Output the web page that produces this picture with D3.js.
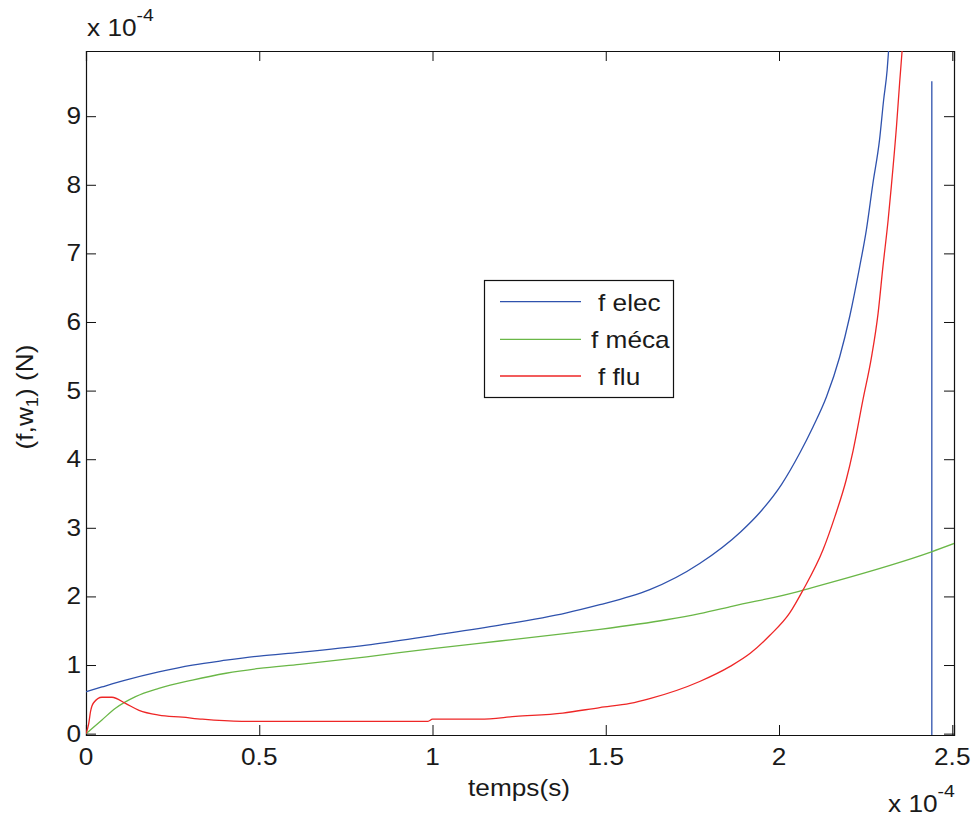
<!DOCTYPE html>
<html><head><meta charset="utf-8">
<script src="https://cdn.jsdelivr.net/npm/d3@7"></script>
<style>body{margin:0;background:#fff}svg{display:block}text{font-family:"Liberation Sans",Arial,sans-serif;fill:#1a1a1a}</style>
</head><body>
<svg id="c" width="973" height="816"></svg>
<script>
// ---- data (units: x in 1e-4 s, y in 1e-4 N) ----
const xTicks = [0, 0.5, 1, 1.5, 2, 2.5];
const xTickLabels = ["0", "0.5", "1", "1.5", "2", "2.5"];
const yTicks = [0, 1, 2, 3, 4, 5, 6, 7, 8, 9];
const yTickLabels = ["0", "1", "2", "3", "4", "5", "6", "7", "8", "9"];
const seriesNames = ["f elec", "f méca", "f flu"];
const seriesColors = ["#2f52ad", "#6ab747", "#ee2626"];

const elecX = [0, 0.046, 0.114, 0.21, 0.307, 0.404, 0.5, 0.617, 0.81, 1.0, 1.194, 1.387, 1.483, 1.57, 1.627, 1.771, 1.889, 1.944, 2.007, 2.060, 2.098, 2.137, 2.175, 2.204, 2.233, 2.252, 2.271, 2.290, 2.302, 2.312, 2.316, 2.320];
const elecY = [0.61, 0.68, 0.78, 0.90, 1.0, 1.07, 1.13, 1.185, 1.29, 1.43, 1.58, 1.76, 1.88, 2.0, 2.10, 2.48, 2.94, 3.22, 3.63, 4.09, 4.47, 4.91, 5.49, 6.08, 6.81, 7.34, 8.02, 8.65, 9.24, 9.67, 9.94, 10.2];
const elecSpikeX = [2.441, 2.441];
const elecSpikeY = [9.51, -0.02];

const mecaX = [0, 0.046, 0.085, 0.143, 0.21, 0.307, 0.404, 0.5, 0.617, 0.81, 1.0, 1.194, 1.387, 1.483, 1.675, 1.771, 1.867, 2.055, 2.069, 2.44, 2.51];
const mecaY = [0, 0.2, 0.37, 0.54, 0.66, 0.78, 0.88, 0.95, 1.01, 1.12, 1.24, 1.35, 1.46, 1.52, 1.66, 1.75, 1.86, 2.07, 2.09, 2.65, 2.78];

const fluX = [0, 0.008, 0.013, 0.022, 0.046, 0.075, 0.114, 0.153, 0.21, 0.278, 0.336, 0.45, 0.987, 1.0, 1.137, 1.24, 1.376, 1.483, 1.57, 1.627, 1.771, 1.859, 1.917, 1.973, 2.031, 2.069, 2.127, 2.161, 2.194, 2.214, 2.242, 2.267, 2.286, 2.300, 2.315, 2.324, 2.339, 2.348, 2.355, 2.360];
const fluY = [0, 0.15, 0.32, 0.45, 0.53, 0.53, 0.44, 0.34, 0.27, 0.24, 0.21, 0.18, 0.18, 0.21, 0.21, 0.25, 0.30, 0.38, 0.44, 0.51, 0.76, 0.98, 1.17, 1.43, 1.76, 2.09, 2.68, 3.16, 3.70, 4.13, 4.86, 5.49, 6.13, 6.81, 7.49, 7.97, 8.85, 9.48, 9.94, 10.3];

// ---- layout ----
const L = 86, R = 954, T = 51, B = 735;
const SX = 1.14, FS = 23;
const svg = d3.select("#c");
const x = d3.scaleLinear().domain([0, 2.505]).range([L, R]);
const y = d3.scaleLinear().domain([-0.02, 9.95]).range([B, T]);

svg.append("defs").append("clipPath").attr("id", "clip")
  .append("rect").attr("x", L).attr("y", T).attr("width", R - L).attr("height", B - T);

function txt(g, s, tx, ty, anchor, extra) {
  return g.append("text").attr("transform", `translate(${tx},${ty})${extra || ""} scale(${SX},1)`)
    .attr("text-anchor", anchor).attr("font-size", FS).text(s);
}

// axes (MATLAB box style, inward ticks)
const axB = d3.axisBottom(x).tickValues(xTicks).tickSize(-10).tickFormat(() => "");
const axT = d3.axisTop(x).tickValues(xTicks).tickSize(-10).tickFormat(() => "");
const axL = d3.axisLeft(y).tickValues(yTicks).tickSize(-10).tickFormat(() => "");
const axR = d3.axisRight(y).tickValues(yTicks).tickSize(-10).tickFormat(() => "");
[[axB, `translate(0,${B})`], [axT, `translate(0,${T})`], [axL, `translate(${L},0)`], [axR, `translate(${R},0)`]].forEach(([a, t]) => {
  const g = svg.append("g").attr("transform", t).call(a);
  g.selectAll("path.domain").attr("stroke", "#111").attr("stroke-width", 1.2);
  g.selectAll(".tick line").attr("stroke", "#111").attr("stroke-width", 1);
});

// tick labels
const lab = svg.append("g");
xTicks.forEach((v, i) => txt(lab, xTickLabels[i], x(v), 765, "middle"));
yTicks.forEach((v, i) => txt(lab, yTickLabels[i], 81, y(v) + 8, "end"));

// series
const smooth = d3.line().x(d => x(d[0])).y(d => y(d[1])).curve(d3.curveMonotoneX);
const straight = d3.line().x(d => x(d[0])).y(d => y(d[1]));
const plot = svg.append("g").attr("clip-path", "url(#clip)");
const series = [
  [elecX, elecY, 0, smooth], [elecSpikeX, elecSpikeY, 0, straight], [mecaX, mecaY, 1, smooth], [fluX, fluY, 2, smooth]
];
series.forEach(([xs, ys, c, gen]) => {
  plot.append("path").datum(xs.map((v, i) => [v, ys[i]]))
    .attr("d", gen).attr("fill", "none").attr("stroke", seriesColors[c]).attr("stroke-width", 1.3);
});

// axis titles
txt(svg, "temps(s)", 519, 796, "middle");
const yl = svg.append("text").attr("transform", `translate(33,397) rotate(-90) scale(${SX},1)`)
  .attr("text-anchor", "middle").attr("font-size", FS);
yl.append("tspan").text("(f,w");
yl.append("tspan").attr("font-size", 16).attr("dy", 5).text("1");
yl.append("tspan").attr("dy", -5).text(") (N)");

// exponent labels
function expo(tx, ty) {
  const t = svg.append("text").attr("transform", `translate(${tx},${ty}) scale(${SX},1)`).attr("font-size", FS);
  t.append("tspan").text("x 10");
  t.append("tspan").attr("font-size", 17).attr("dy", -15).text("-4");
}
expo(87, 36);
expo(888, 812);

// legend
const lg = svg.append("g");
lg.append("rect").attr("x", 484.5).attr("y", 280.5).attr("width", 189).attr("height", 117)
  .attr("fill", "#fff").attr("stroke", "#111").attr("stroke-width", 1.2);
const legY = [301.7, 339.3, 376];
const legTX = [598, 591, 598];
seriesNames.forEach((n, i) => {
  lg.append("line").attr("x1", 500).attr("x2", 581).attr("y1", legY[i]).attr("y2", legY[i])
    .attr("stroke", seriesColors[i]).attr("stroke-width", 1.3);
  txt(lg, n, legTX[i], legY[i] + 9, "start");
});
</script>
</body></html>
